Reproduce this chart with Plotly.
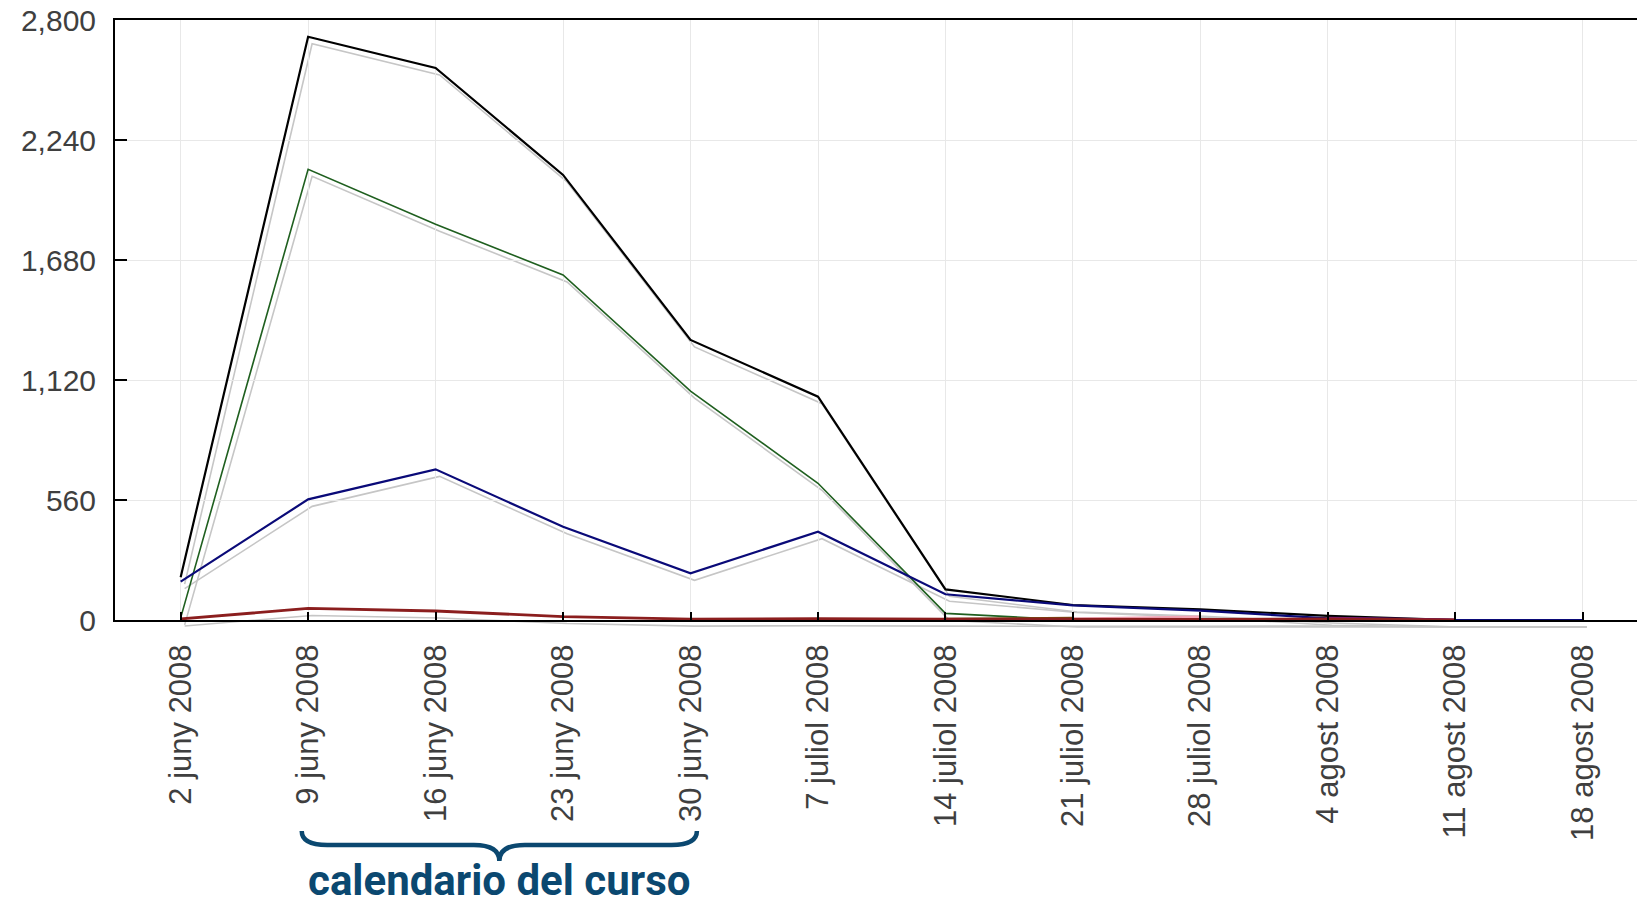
# lib visualization data
import plotly.graph_objects as go
# ---------------------------------------------------------------------------

# weekly categories (x axis)
weeks = ["2 juny 2008", "9 juny 2008", "16 juny 2008", "23 juny 2008",
         "30 juny 2008", "7 juliol 2008", "14 juliol 2008", "21 juliol 2008",
         "28 juliol 2008", "4 agost 2008", "11 agost 2008", "18 agost 2008"]

# series values
total = [200, 2722, 2576, 2077, 1307, 1042, 143, 70, 50, 19, 0, 0]
green = [10, 2103, 1847, 1610, 1068, 638, 31, 0, 0, 0, 0, 0]
blue = [179, 563, 703, 435, 218, 412, 120, 68, 44, 8, 0, 0]
red = [5, 54, 42, 16, 4, 6, 4, 3, 3, 5, 0, None]
brown = [None, None, None, None, None, None, 3, 8, None, None, None, None]
pink = [None, None, None, None, None, None, None, 5, 14, None, None, None]
purple = [None, None, None, None, None, None, None, None, None, 8, 0, None]

# y ticks
y_ticks = [0, 560, 1120, 1680, 2240, 2800]

# course period marked under the axis
course = ["9 juny 2008", "30 juny 2008"]
course_label = "calendario del curso"
# ---------------------------------------------------------------------------

# figure geometry (pixels)
W, H = 1637, 904
ML, MT = 115, 20
PW, PH = W - ML, 620          # paper plot area
AXIS_H = 600                 # height of the value axis
X_RANGE = [-0.515, 11.425]
Y_MAX = 2800
SH_DX, SH_DY = 4, 7          # drop shadow offset
px_x = PW / (X_RANGE[1] - X_RANGE[0])
px_y = AXIS_H / Y_MAX


def py(y_pixel):
  # figure pixel row -> paper fraction
  return (MT + PH - y_pixel) / PH


def main_chart():

  fig = go.Figure()

  # shadows first (subplot x/y), slightly shifted
  for vals in [total, green, blue, red]:
    fig.add_trace(go.Scatter(
      x=weeks, y=vals, mode="lines", xaxis="x", yaxis="y",
      line=dict(color="#c6c6c6", width=1.6), hoverinfo="skip", showlegend=False
    ))

  # main lines (subplot x2/y2)
  series = [
    (total, "#000000", 2.2),
    (green, "#1f5f1f", 1.6),
    (blue, "#0a0a78", 2.2),
    (brown, "#7a4410", 3),
    (pink, "#f3a4b4", 3),
    (purple, "#7a1a8a", 3),
    (red, "#8b1e1e", 2.8),
  ]
  for vals, color, width in series:
    fig.add_trace(go.Scatter(
      x=weeks, y=vals, mode="lines", xaxis="x2", yaxis="y2",
      line=dict(color=color, width=width), showlegend=False
    ))

  tick_font = dict(family="Liberation Sans, Arial", size=30, color="#3f3f3f")

  fig.update_layout(
    width=W, height=H,
    margin=dict(l=ML, r=0, t=MT, b=H - MT - PH),
    paper_bgcolor="white", plot_bgcolor="rgba(0,0,0,0)",
    # shadow axes
    xaxis=dict(type="category", categoryorder="array", categoryarray=weeks,
               domain=[SH_DX / PW, 1],
               range=[X_RANGE[0], X_RANGE[1] - SH_DX / px_x],
               visible=False, anchor="y", automargin=False),
    yaxis=dict(domain=[(PH - AXIS_H - SH_DY - 10) / PH, (PH - SH_DY) / PH],
               range=[-10 / px_y, Y_MAX], visible=False, anchor="x",
               automargin=False),
    # main axes
    xaxis2=dict(type="category", categoryorder="array", categoryarray=weeks,
                domain=[0, 1], range=X_RANGE, anchor="y2", automargin=False,
                tickmode="array", tickvals=weeks, ticktext=weeks,
                tickangle=-90, tickfont=dict(tick_font, size=31),
                ticks="inside", ticklen=8, tickwidth=2, tickcolor="black",
                ticklabelstandoff=10,
                showgrid=True, gridcolor="#e8e8e8", gridwidth=1,
                showline=True, linecolor="black", linewidth=2, mirror=True),
    yaxis2=dict(domain=[(PH - AXIS_H) / PH, 1], range=[0, Y_MAX], anchor="x2",
                automargin=False,
                tickmode="array", tickvals=y_ticks, tickformat=",",
                tickfont=tick_font,
                ticks="inside", ticklen=12, tickwidth=2, tickcolor="black",
                ticklabelstandoff=11,
                showgrid=True, gridcolor="#e8e8e8", gridwidth=1,
                zeroline=False,
                showline=True, linecolor="black", linewidth=2),
  )

  # brace under the course weeks
  x0 = weeks.index(course[0]) - 0.05
  x1 = weeks.index(course[1]) + 0.05
  xc = (x0 + x1) / 2
  r = 0.2
  yt, ym, yb = py(831), py(845), py(861)
  brace = (f"M {x0},{yt} Q {x0},{ym} {x0 + r},{ym} L {xc - r},{ym} "
           f"Q {xc},{ym} {xc},{yb} Q {xc},{ym} {xc + r},{ym} "
           f"L {x1 - r},{ym} Q {x1},{ym} {x1},{yt}")
  fig.add_shape(type="path", path=brace, xref="x2", yref="paper",
                line=dict(color="#0b4870", width=4.5))

  fig.add_annotation(
    x=xc, y=py(880), xref="x2", yref="paper", text=course_label,
    showarrow=False, yanchor="middle", xanchor="center",
    font=dict(family="Roboto", size=42, color="#0b4870", weight="bold"),
  )

  return fig
# ---------------------------------------------------------------------------

fig = main_chart()
# page without the default body margin so the chart sits at the corner
fig.write_html("out.html", config={"displayModeBar": False},
               post_script="document.body.style.margin='0';")
